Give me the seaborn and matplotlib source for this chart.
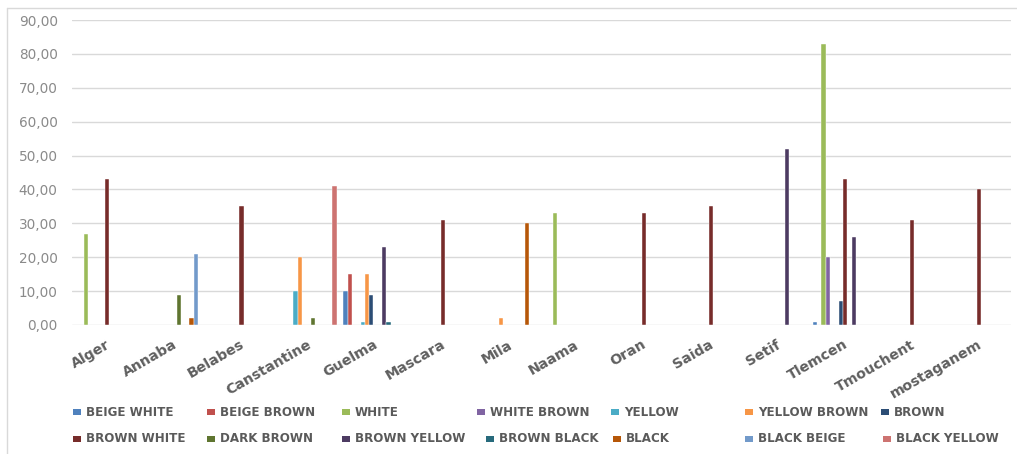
import numpy as np
import pandas as pd
import matplotlib
matplotlib.use("Agg")
import matplotlib.pyplot as plt
from matplotlib.patches import Rectangle
from matplotlib.lines import Line2D
from matplotlib.transforms import ScaledTranslation
import seaborn as sns

# Cities (categories along the x axis)
cities = ["Alger", "Annaba", "Belabes", "Canstantine", "Guelma", "Mascara", "Mila",
          "Naama", "Oran", "Saida", "Setif", "Tlemcen", "Tmouchent", "mostaganem"]

# Percentage per colour class, one list per series (same order as cities)
beige_white   = [0, 0, 0, 0, 10, 0, 0, 0, 0, 0, 0, 1, 0, 0]
beige_brown   = [0, 0, 0, 0, 15, 0, 0, 0, 0, 0, 0, 0, 0, 0]
white         = [27, 0, 0, 0, 0, 0, 0, 33, 0, 0, 0, 83, 0, 0]
white_brown   = [0, 0, 0, 0, 0, 0, 0, 0, 0, 0, 0, 20, 0, 0]
yellow        = [0, 0, 0, 10, 1, 0, 0, 0, 0, 0, 0, 0, 0, 0]
yellow_brown  = [0, 0, 0, 20, 15, 0, 2, 0, 0, 0, 0, 0, 0, 0]
brown         = [0, 0, 0, 0, 9, 0, 0, 0, 0, 0, 0, 7, 0, 0]
brown_white   = [43, 0, 35, 0, 0, 31, 0, 0, 33, 35, 0, 43, 31, 40]
dark_brown    = [0, 9, 0, 2, 0, 0, 0, 0, 0, 0, 0, 0, 0, 0]
brown_yellow  = [0, 0, 0, 0, 23, 0, 0, 0, 0, 0, 52, 26, 0, 0]
brown_black   = [0, 0, 0, 0, 1, 0, 0, 0, 0, 0, 0, 0, 0, 0]
black         = [0, 2, 0, 0, 0, 0, 30, 0, 0, 0, 0, 0, 0, 0]
black_beige   = [0, 21, 0, 0, 0, 0, 0, 0, 0, 0, 0, 0, 0, 0]
black_yellow  = [0, 0, 0, 41, 0, 0, 0, 0, 0, 0, 0, 0, 0, 0]

series_names = ["BEIGE WHITE", "BEIGE BROWN", "WHITE", "WHITE BROWN", "YELLOW",
                "YELLOW BROWN", "BROWN", "BROWN WHITE", "DARK BROWN", "BROWN YELLOW",
                "BROWN BLACK", "BLACK", "BLACK BEIGE", "BLACK YELLOW"]
series_values = [beige_white, beige_brown, white, white_brown, yellow, yellow_brown,
                 brown, brown_white, dark_brown, brown_yellow, brown_black, black,
                 black_beige, black_yellow]
series_colors = ["#4F81BD", "#C0504D", "#9BBB59", "#8064A2", "#4BACC6", "#F79646",
                 "#2C4D75", "#772C2A", "#5F7530", "#4D3B62", "#276A7C", "#B65708",
                 "#729ACA", "#CD7371"]

y_ticks = [0, 10, 20, 30, 40, 50, 60, 70, 80, 90]

# Long-form table; empty cells are not drawn
rows = []
for name, vals in zip(series_names, series_values):
    for city, v in zip(cities, vals):
        if v > 0:
            rows.append({"city": city, "colour": name, "value": v})
df = pd.DataFrame(rows)

sns.set_theme(style="white")
plt.rcParams["font.family"] = ["DejaVu Sans"]

W, H = 1017, 454
fig = plt.figure(figsize=(W / 100, H / 100), dpi=100)
fig.patch.set_facecolor("white")

ax = fig.add_axes([71.6 / W, 1 - 325 / H, 939.1 / W, 305 / H])

sns.barplot(data=df, x="city", y="value", hue="colour", order=cities,
            hue_order=series_names, palette=series_colors, width=0.9,
            dodge=True, saturation=1, errorbar=None, legend=False,
            edgecolor="white", linewidth=0.3, ax=ax)

ax.set_xlim(-0.5, len(cities) - 0.5)
ax.set_ylim(0, 90)
ax.set_yticks(y_ticks)
ax.set_yticklabels([f"{v:.2f}".replace(".", ",") for v in y_ticks],
                   color="#8a8a8a", fontsize=9.8)
ax.set_xticks(range(len(cities)))
ax.set_xticklabels(cities, rotation=30, ha="right", va="top",
                   rotation_mode="anchor", fontsize=10.2, fontweight="bold",
                   color="#5f5f5f")
shift = ScaledTranslation(3 / 100, 0, fig.dpi_scale_trans)
for lbl in ax.get_xticklabels():
    lbl.set_transform(lbl.get_transform() + shift)
ax.tick_params(axis="x", length=0, pad=9)
ax.tick_params(axis="y", length=0, pad=10)
ax.set_xlabel("")
ax.set_ylabel("")
ax.set_axisbelow(True)
ax.yaxis.grid(True, color="#d9d9d9", linewidth=1)
ax.xaxis.grid(False)
for s in ax.spines.values():
    s.set_visible(False)

# Chart frame
fig.add_artist(Line2D([7 / W, 1], [1 - 8 / H, 1 - 8 / H], color="#d9d9d9",
                      linewidth=1, transform=fig.transFigure))
fig.add_artist(Line2D([7 / W, 7 / W], [0, 1 - 8 / H], color="#d9d9d9",
                      linewidth=1, transform=fig.transFigure))

# Legend in two rows
legend_x = [73, 207, 342, 477, 611, 745, 881,
            73, 207, 342, 486, 613, 745, 883]
legend_y = [412] * 7 + [439] * 7
for name, col, lx, ly in zip(series_names, series_colors, legend_x, legend_y):
    fig.add_artist(Rectangle((lx / W, 1 - (ly + 3) / H), 8 / W, 6 / H,
                             facecolor=col, edgecolor="none",
                             transform=fig.transFigure))
    fig.text((lx + 13) / W, 1 - ly / H, name, fontsize=8.6, fontweight="bold",
             color="#5a5a5a", ha="left", va="center")

fig.savefig("out.png", dpi=100, facecolor="white")
